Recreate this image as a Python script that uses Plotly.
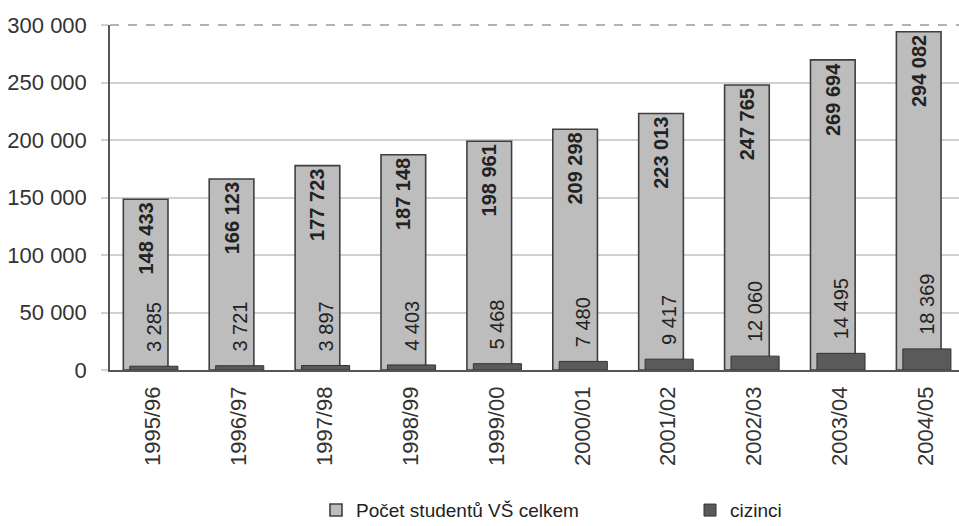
import plotly.graph_objects as go

# Academic years
years = ["1995/96", "1996/97", "1997/98", "1998/99", "1999/00",
         "2000/01", "2001/02", "2002/03", "2003/04", "2004/05"]

# Total number of university students
students_total = [148433, 166123, 177723, 187148, 198961,
                  209298, 223013, 247765, 269694, 294082]

# Foreign students
foreigners = [3285, 3721, 3897, 4403, 5468,
              7480, 9417, 12060, 14495, 18369]

y_ticks = [0, 50000, 100000, 150000, 200000, 250000, 300000]

FONT = "Liberation Sans, Arial, sans-serif"

fig = go.Figure()

fig.add_trace(go.Bar(
    x=list(range(len(years))),
    y=students_total,
    name="Počet studentů VŠ celkem",
    legend="legend",
    width=0.52,
    offset=-0.345,
    marker=dict(color="#bdbdbd", line=dict(color="#3f3f3f", width=1.6)),
    texttemplate="%{y:,d}",
    textposition="inside",
    insidetextanchor="end",
    textangle=-90,
    constraintext="none",
    insidetextfont=dict(family=FONT, size=20, color="#222222", weight="bold"),
))

fig.add_trace(go.Bar(
    x=list(range(len(years))),
    y=foreigners,
    name="cizinci",
    legend="legend2",
    width=0.56,
    offset=-0.27,
    marker=dict(color="#5a5a5a", line=dict(color="#333333", width=1)),
    texttemplate="\u00a0\u00a0%{y:,d}",
    textposition="outside",
    textangle=-90,
    constraintext="none",
    outsidetextfont=dict(family=FONT, size=20, color="#222222"),
    cliponaxis=False,
))

legend_common = dict(
    orientation="h",
    yref="container",
    yanchor="middle",
    y=0.03,
    xanchor="left",
    font=dict(family=FONT, size=19, color="#222222"),
    itemwidth=30,
    bgcolor="rgba(0,0,0,0)",
)

fig.update_layout(
    width=959,
    height=526,
    barmode="overlay",
    separators=", ",
    paper_bgcolor="white",
    plot_bgcolor="white",
    margin=dict(l=110, r=0, t=25, b=156),
    font=dict(family=FONT, size=22, color="#333333"),
    showlegend=True,
    legend=dict(legend_common, x=(316 - 110) / 849),
    legend2=dict(legend_common, x=(690 - 110) / 849),
    xaxis=dict(
        tickmode="array",
        tickvals=list(range(len(years))),
        ticktext=years,
        range=[-0.5, 9.384],
        tickangle=-90,
        tickfont=dict(family=FONT, size=22, color="#333333"),
        showline=True,
        linecolor="#555555",
        linewidth=1.5,
        showgrid=False,
        ticks="",
        ticklabelstandoff=6,
        automargin=False,
    ),
    yaxis=dict(
        range=[0, 300000],
        tickvals=y_ticks,
        tickformat=",d",
        tickfont=dict(family=FONT, size=22, color="#333333"),
        showline=True,
        linecolor="#555555",
        linewidth=1.5,
        showgrid=True,
        gridcolor="#d0d0d0",
        gridwidth=2,
        ticks="outside",
        ticklen=7,
        tickcolor="#d0d0d0",
        tickwidth=2,
        ticklabelstandoff=10,
        zeroline=False,
        automargin=False,
    ),
    shapes=[dict(
        type="line", xref="paper", yref="paper",
        x0=0, x1=1, y0=1, y1=1,
        line=dict(color="#666666", width=1.2, dash="dash"),
    )],
)

fig.write_html("out.html")
